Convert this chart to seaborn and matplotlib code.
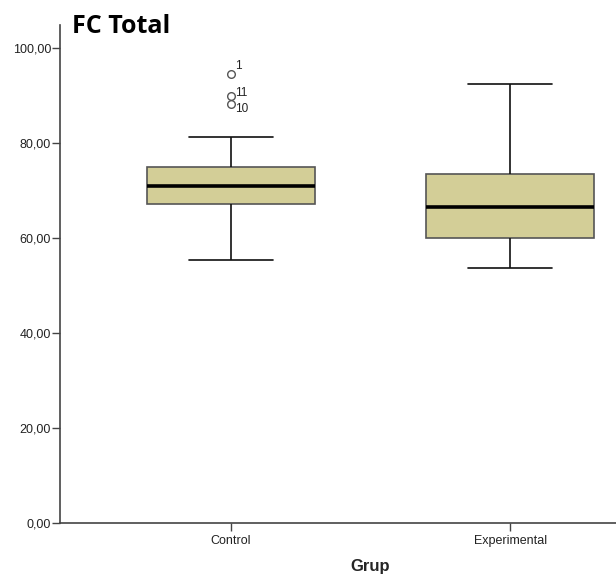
import seaborn as sns
import matplotlib.pyplot as plt
import pandas as pd
import numpy as np

# FC Total scores by case number (case 1 first)
groups = ['Control', 'Experimental']
control = [94.5, 71.0, 67.2, 61.0, 73.1, 75.0, 69.0, 81.3, 64.5, 88.1,
           89.9, 70.2, 55.4, 72.0, 66.3, 74.2, 68.1]
experimental = [66.5, 58.9, 73.4, 92.4, 61.8, 53.6, 69.7, 60.0, 80.5, 57.5,
                71.5, 63.5, 85.9, 55.8, 68.0, 65.2, 76.8]
yticks = [0, 20, 40, 60, 80, 100]

df = pd.DataFrame({
    'Grup': [groups[0]] * len(control) + [groups[1]] * len(experimental),
    'FC Total': control + experimental,
})

sns.set_style('white')
plt.rcParams['font.family'] = ['Liberation Sans', 'DejaVu Sans']
plt.rcParams['text.color'] = '#111111'
plt.rcParams['xtick.color'] = '#444444'
plt.rcParams['ytick.color'] = '#444444'
plt.rcParams['xtick.labelcolor'] = '#222222'
plt.rcParams['ytick.labelcolor'] = '#222222'

fig = plt.figure(figsize=(6.16, 5.74), dpi=100)
ax = fig.add_axes([60 / 616, 51 / 574, 556 / 616, 498 / 574])

whis = 1.6
sns.boxplot(data=df, x='Grup', y='FC Total', order=groups, ax=ax,
            color='#d3ce97', width=0.6, whis=whis, saturation=1,
            boxprops=dict(facecolor='#d3ce97', edgecolor='#555555', linewidth=1.2),
            medianprops=dict(color='black', linewidth=2.6),
            whiskerprops=dict(color='#111111', linewidth=1.2),
            capprops=dict(color='#111111', linewidth=1.2),
            flierprops=dict(marker='o', markersize=5.5, markerfacecolor='none',
                            markeredgecolor='#555555', markeredgewidth=1.0))

# label outliers with their case number, as SPSS does
offsets = {'1': (3, 6), '11': (3, 2), '10': (3, -3)}
for gi, vals in enumerate([control, experimental]):
    arr = np.array(vals)
    q1, q3 = np.percentile(arr, [25, 75])
    lo, hi = q1 - whis * (q3 - q1), q3 + whis * (q3 - q1)
    for case, v in enumerate(vals, start=1):
        if v < lo or v > hi:
            lab = str(case)
            ax.annotate(lab, (gi, v), xytext=offsets.get(lab, (3, 4)),
                        textcoords='offset points', fontsize=8.5,
                        va='center', ha='left', color='#222222')

ax.set_xlim(-0.61, 1.378)
ax.set_ylim(0, 104.8)
ax.set_yticks(yticks)
ax.set_yticklabels([f'{v:.2f}'.replace('.', ',') for v in yticks], fontsize=9)
ax.tick_params(axis='y', length=6, width=1, pad=0.5, left=True)
ax.tick_params(axis='x', length=5.5, width=1, pad=3, bottom=True, labelsize=9)

for s in ['top', 'right']:
    ax.spines[s].set_visible(False)
for s in ['left', 'bottom']:
    ax.spines[s].set_color('#444444')
    ax.spines[s].set_linewidth(1.2)

ax.set_ylabel('')
ax.set_xlabel('Grup', fontsize=12, fontweight='bold')
ax.xaxis.set_label_coords(310 / 556, -0.072)

fig.text(72 / 616, 1 - 33 / 574, 'FC Total', fontsize=18, fontweight='bold',
         family=['Open Sans', 'DejaVu Sans'], va='baseline', ha='left',
         color='black')

plt.savefig('out.png', dpi=100)
